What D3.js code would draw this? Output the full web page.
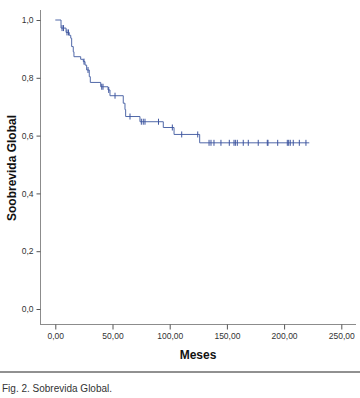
<!DOCTYPE html>
<html><head><meta charset="utf-8">
<script src="https://cdn.jsdelivr.net/npm/d3@7"></script>
<style>body{margin:0;background:#fff}svg{display:block}text{font-family:"Liberation Sans",Arial,sans-serif}</style>
</head><body>
<script>
// Kaplan-Meier steps: event times (months) and survival after event
const eventTimes = [5.0, 9.4, 12.2, 13.5, 14.3, 15.7, 16.3, 22.2, 24.5, 26.0, 27.4, 29.7, 30.6, 39.7, 46.1, 47.8, 59.4, 60.9, 61.5, 74.0, 94.4, 103.8, 126.2];
const survival   = [0.972, 0.957, 0.947, 0.937, 0.908, 0.890, 0.873, 0.864, 0.856, 0.844, 0.827, 0.804, 0.784, 0.769, 0.758, 0.738, 0.712, 0.690, 0.666, 0.648, 0.628, 0.604, 0.575];
const censorTimes = [5.9, 7.2, 10.2, 11.5, 25.1, 28.6, 40.6, 41.7, 46.7, 52.2, 65.3, 75.2, 76.9, 78.4, 90.2, 102.3, 110.5, 124.5,
  134.4, 136.1, 138.7, 144.8, 152.1, 156.2, 157.4, 159.1, 164.3, 168.7, 177.4, 185.3, 185.9, 194.4, 202.8, 204.0, 205.4, 208.0, 213.3, 219.1];
const endTime = 222;
const xTicks = [0, 50, 100, 150, 200, 250];
const yTicks = [0, 0.2, 0.4, 0.6, 0.8, 1.0];
const xTitle = "Meses", yTitle = "Soobrevida Global", caption = "Fig. 2. Sobrevida Global.";

const W = 360, H = 398;
const svg = d3.select("body").append("svg").attr("width", W).attr("height", H);
const x = d3.scaleLinear().domain([0, 250]).range([55.3, 341.3]);
const y = d3.scaleLinear().domain([0, 1]).range([309, 20]);

// axis frame
svg.append("line").attr("x1", 40.5).attr("x2", 40.5).attr("y1", 10).attr("y2", 324.5).attr("stroke", "#8c8c8c");
svg.append("line").attr("x1", 40).attr("x2", 356).attr("y1", 324.5).attr("y2", 324.5).attr("stroke", "#8c8c8c");

const fmtX = d => d3.format(".2f")(d).replace(".", ",");
const fmtY = d => d3.format(".1f")(d).replace(".", ",");

const gx = svg.append("g").attr("transform", "translate(0,324.5)")
  .call(d3.axisBottom(x).tickValues(xTicks).tickFormat(fmtX).tickSize(5).tickPadding(3));
const gy = svg.append("g").attr("transform", "translate(40.5,0)")
  .call(d3.axisLeft(y).tickValues(yTicks).tickFormat(fmtY).tickSize(4).tickPadding(3));
[gx, gy].forEach(g => {
  g.select(".domain").remove();
  g.selectAll(".tick line").attr("stroke", "#555");
  g.selectAll("text").attr("fill", "#333").style("font-size", "8.5px");
});

// KM step path
const pts = [[0, 1]];
let s = 1;
eventTimes.forEach((t, i) => { pts.push([t, s]); s = survival[i]; pts.push([t, s]); });
pts.push([endTime, s]);
const line = d3.line().x(d => x(d[0])).y(d => y(d[1]));
svg.append("path").attr("d", line(pts)).attr("fill", "none").attr("stroke", "#5068a8").attr("stroke-width", 1);

function survAt(t) {
  let v = 1;
  eventTimes.forEach((e, i) => { if (e <= t) v = survival[i]; });
  return v;
}
svg.selectAll(".cens").data(censorTimes).enter().append("line")
  .attr("x1", d => x(d)).attr("x2", d => x(d))
  .attr("y1", d => y(survAt(d)) - 3).attr("y2", d => y(survAt(d)) + 3)
  .attr("stroke", "#3f56a0").attr("stroke-width", 1);

// titles
svg.append("text").attr("x", 198).attr("y", 358.5).attr("text-anchor", "middle")
  .style("font-size", "12px").style("font-weight", "bold").attr("fill", "#111").text(xTitle);
svg.append("text").attr("transform", "translate(16,168) rotate(-90)").attr("text-anchor", "middle")
  .style("font-size", "12px").style("font-weight", "bold").attr("fill", "#111").text(yTitle);

// separator and caption
svg.append("line").attr("x1", 0).attr("x2", W).attr("y1", 372).attr("y2", 372).attr("stroke", "#222").attr("stroke-width", 1);
svg.append("text").attr("x", 2).attr("y", 391.5).style("font-size", "10px").attr("fill", "#333").text(caption);
</script>
</body></html>
